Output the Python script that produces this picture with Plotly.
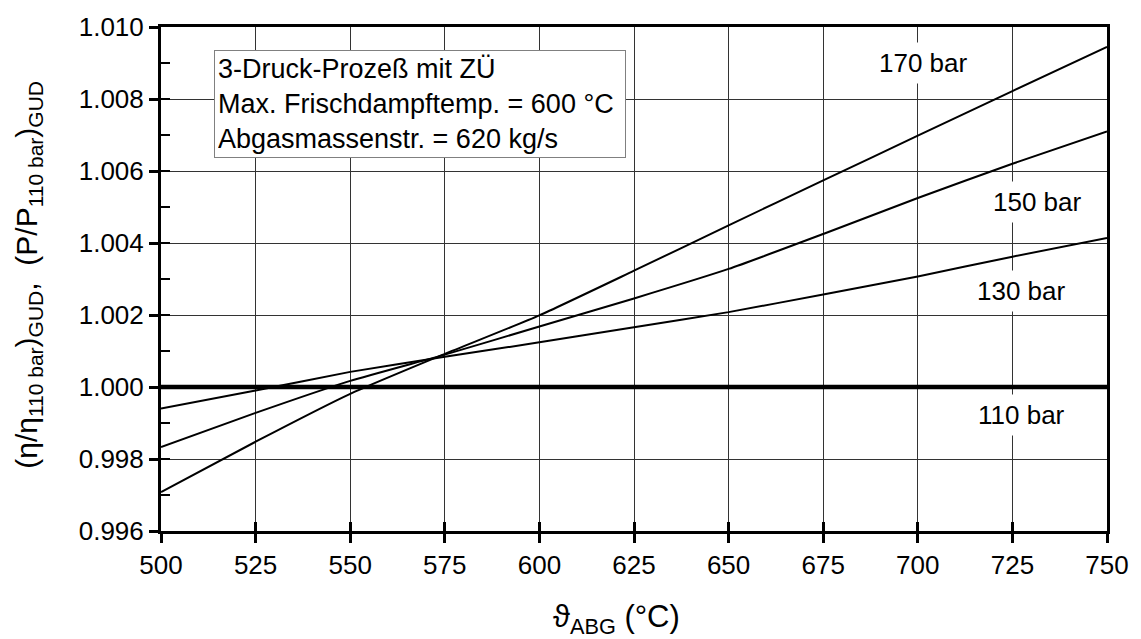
import plotly.graph_objects as go

# Data
temps = [500, 525, 550, 575, 600, 625, 650, 675, 700, 725, 750]
p110 = [1.0, 1.0, 1.0, 1.0, 1.0, 1.0, 1.0, 1.0, 1.0, 1.0, 1.0]
p130 = [0.99940, 0.99990, 1.00042, 1.00084, 1.00124, 1.00166, 1.00208, 1.00257, 1.00307, 1.00362, 1.00414]
p150 = [0.99833, 0.99928, 1.00017, 1.00090, 1.00168, 1.00246, 1.00328, 1.00425, 1.00525, 1.00620, 1.00710]
p170 = [0.99708, 0.99848, 0.99981, 1.00092, 1.00199, 1.00323, 1.00449, 1.00574, 1.00698, 1.00822, 1.00945]

x_ticks = [500, 525, 550, 575, 600, 625, 650, 675, 700, 725, 750]
y_ticks = [0.996, 0.998, 1.000, 1.002, 1.004, 1.006, 1.008, 1.010]
y_minor = [0.996, 0.997, 0.998, 0.999, 1.000, 1.001, 1.002, 1.003, 1.004, 1.005, 1.006, 1.007, 1.008, 1.009, 1.010]

labels = ["170 bar", "150 bar", "130 bar", "110 bar"]
label_x = [701.4, 731.6, 727.4, 727.4]
label_y = [1.00900, 1.00513, 1.00266, 0.99922]

info_lines = ["3-Druck-Prozeß mit ZÜ", "Max. Frischdampftemp. = 600 °C", "Abgasmassenstr. = 620 kg/s"]

FONT = "Liberation Sans, Arial, sans-serif"

fig = go.Figure()
fig.add_trace(go.Scatter(x=temps, y=p110, mode="lines", line=dict(color="black", width=4.5),
                         showlegend=False, hoverinfo="skip"))
for ys in (p130, p150, p170):
    fig.add_trace(go.Scatter(x=temps, y=ys, mode="lines",
                             line=dict(color="black", width=2, shape="spline", smoothing=0.5),
                             showlegend=False))
# invisible trace carrying the overlay axes (inside tick marks)
fig.add_trace(go.Scatter(x=[temps[0]], y=[p110[0]], xaxis="x2", yaxis="y2", mode="markers",
                         marker=dict(opacity=0), showlegend=False, hoverinfo="skip"))

for t, xv, yv in zip(labels, label_x, label_y):
    fig.add_annotation(x=xv, y=yv, xref="x", yref="y", text=t, showarrow=False,
                       font=dict(family=FONT, size=26, color="black"),
                       bgcolor="white", borderpad=5)

fig.add_annotation(x=(214 - 161) / 951, y=(531 - 44) / 510, xref="paper", yref="paper",
                   xanchor="left", yanchor="top", align="left",
                   text="<br>".join(info_lines), showarrow=False,
                   font=dict(family=FONT, size=27, color="black"),
                   bgcolor="white", bordercolor="#808080", borderwidth=1, borderpad=3,
                   width=404)

# axis titles
fig.add_annotation(x=(619 - 161) / 951, y=-(620 - 531) / 510, xref="paper", yref="paper",
                   xanchor="center", yanchor="middle",
                   text="ϑ<sub>ABG</sub> (°C)", showarrow=False,
                   font=dict(family=FONT, size=31, color="black"))
fig.add_annotation(x=(27 - 161) / 951, y=(531 - 272) / 510, xref="paper", yref="paper",
                   xanchor="center", yanchor="middle", textangle=-90,
                   text="(η/η<sub>110 bar</sub>)<sub>GUD</sub>,  (P/P<sub>110 bar</sub>)<sub>GUD</sub>",
                   showarrow=False, font=dict(family=FONT, size=30, color="black"))

axis_common = dict(showline=True, linecolor="black", linewidth=3, mirror=True,
                   showgrid=True, gridcolor="#333333", gridwidth=1, zeroline=False,
                   ticks="outside", ticklen=9, tickwidth=2.5, tickcolor="black",
                   tickfont=dict(family=FONT, size=26, color="black"))

fig.update_layout(
    width=1141, height=639,
    margin=dict(l=161, r=29, t=21, b=108),
    paper_bgcolor="white", plot_bgcolor="white",
    xaxis=dict(range=[500, 750], tickvals=x_ticks, **axis_common),
    yaxis=dict(range=[0.996, 1.010], tickvals=y_ticks, tickformat=".3f", **axis_common),
    xaxis2=dict(range=[500, 750], overlaying="x", anchor="y", side="bottom",
                tickvals=x_ticks, ticks="inside", ticklen=9, tickwidth=2.5, tickcolor="black",
                showticklabels=False, showgrid=False, showline=False, zeroline=False),
    yaxis2=dict(range=[0.996, 1.010], overlaying="y", anchor="x", side="left",
                tickvals=y_minor, ticks="inside", ticklen=9, tickwidth=2, tickcolor="black",
                showticklabels=False, showgrid=False, showline=False, zeroline=False),
    font=dict(family=FONT, color="black"),
)

fig.write_html("out.html")
